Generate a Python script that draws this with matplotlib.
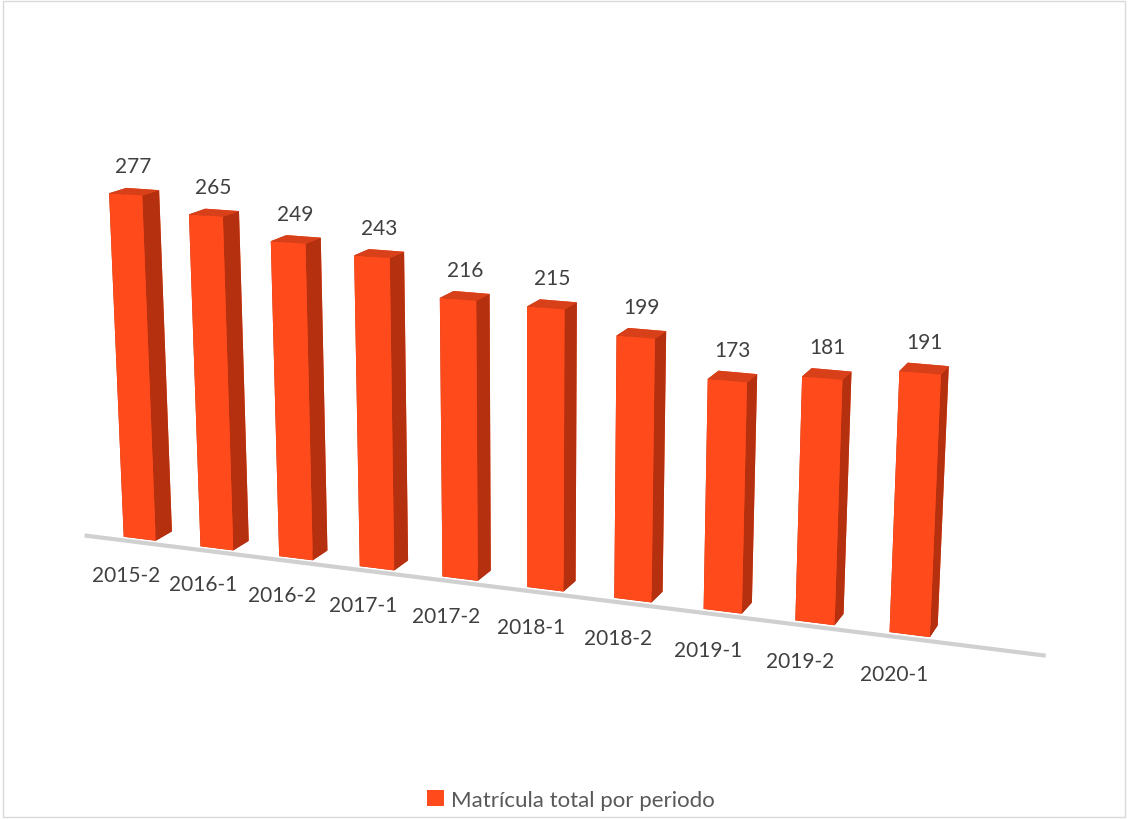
import matplotlib
matplotlib.use("Agg")
import matplotlib.pyplot as plt
import numpy as np
from matplotlib.patches import Patch, Rectangle
from mpl_toolkits.mplot3d import proj3d

categories = ["2015-2", "2016-1", "2016-2", "2017-1", "2017-2",
              "2018-1", "2018-2", "2019-1", "2019-2", "2020-1"]
values = [277, 265, 249, 243, 216, 215, 199, 173, 181, 191]
legend_label = "Matrícula total por periodo"

FRONT = "#FF4A1C"
SIDE = "#B5300E"
TOP = "#D8401A"
BOTTOM = "#B5300E"
TEXT = "#404040"
FONT = ["Lato", "DejaVu Sans"]

fig = plt.figure(figsize=(11.28, 8.2), dpi=100)
ax = fig.add_axes([-0.038, 0.01, 1.0, 1.0], projection="3d")
ax.set_proj_type("persp", focal_length=0.56)
ax.view_init(elev=14.3, azim=-69)

n = len(values)
xs = np.arange(n, dtype=float)
dx, dy = 0.42, 0.38
face_colors = []
for _ in range(n):
    # order: -z, +z, -y, +y, -x, +x
    face_colors += [BOTTOM, TOP, FRONT, FRONT, SIDE, SIDE]
bars = ax.bar3d(xs, np.zeros(n), np.zeros(n), dx, dy, values,
                color=face_colors, shade=False, edgecolor=None, linewidth=0)
bars.set_clip_on(False)

# floor front edge
base, = ax.plot([-0.42, 10.6], [-0.12, -0.12], [0, 0], color="#d0d0d0", lw=3, zorder=0)
base.set_clip_on(False)

ax.set_xlim(-0.6, 10.6)
ax.set_ylim(-0.6, 0.9)
ax.set_zlim(0, 300)
ax.set_box_aspect((11.2, 1.5, 4.35), zoom=1.34)
ax.set_axis_off()

M = ax.get_proj()


def text_at(x, y, z, s, **kw):
    X, Y, _ = proj3d.proj_transform(x, y, z, M)
    ax.text2D(X, Y, s, transform=ax.transData, clip_on=False, **kw)


for x, v, c in zip(xs, values, categories):
    text_at(x + dx / 2, dy / 2, v + 12, str(v), ha="center", va="bottom",
            fontsize=15, color=TEXT, family=FONT)
    text_at(x + dx / 2 - 0.12, -0.12, -20, c, ha="center", va="top",
            fontsize=15, color=TEXT, family=FONT)

fig.legend(handles=[Patch(facecolor=FRONT, edgecolor="none")], labels=[legend_label],
           loc="lower center", bbox_to_anchor=(0.506, -0.013), frameon=False,
           handlelength=0.75, handleheight=0.75, handletextpad=0.3,
           prop={"family": FONT, "size": 16}, labelcolor="#595959")

fig.patches.append(Rectangle((0.003, 0.003), 0.994, 0.994, transform=fig.transFigure,
                             fill=False, edgecolor="#d9d9d9", lw=1))

fig.savefig("out.png", dpi=100, facecolor="white")
